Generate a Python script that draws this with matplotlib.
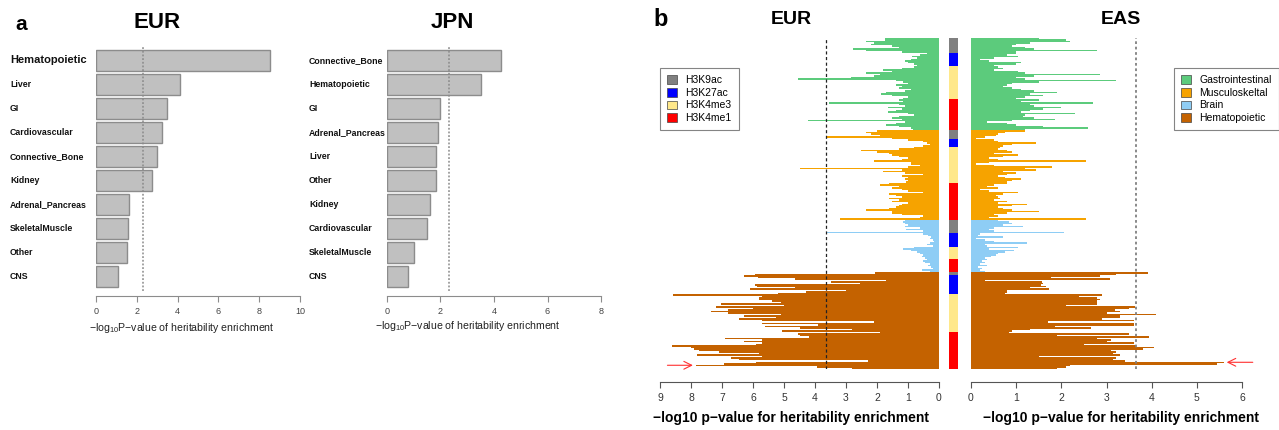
import matplotlib
matplotlib.use('Agg')
import matplotlib.pyplot as plt
import matplotlib.transforms as mtransforms
from matplotlib.patches import Patch

plt.rcParams['font.family'] = ['Liberation Sans', 'DejaVu Sans']
plt.rcParams['mathtext.fontset'] = 'custom'
plt.rcParams['mathtext.rm'] = 'Liberation Sans'

# ---------------- data: panel a ----------------
eur_tissues = ['Hematopoietic', 'Liver', 'GI', 'Cardiovascular', 'Connective_Bone',
               'Kidney', 'Adrenal_Pancreas', 'SkeletalMuscle', 'Other', 'CNS']
eur_values = [8.53, 4.13, 3.46, 3.22, 2.99, 2.73, 1.63, 1.58, 1.53, 1.08]
jpn_tissues = ['Connective_Bone', 'Hematopoietic', 'GI', 'Adrenal_Pancreas', 'Liver',
               'Other', 'Kidney', 'Cardiovascular', 'SkeletalMuscle', 'CNS']
jpn_values = [4.27, 3.53, 1.98, 1.92, 1.83, 1.82, 1.60, 1.48, 1.00, 0.77]
threshold_a = 2.3

# ---------------- data: panel b ----------------
marks = ['H3K9ac', 'H3K27ac', 'H3K4me3', 'H3K4me1']
mark_colors = ['#808080', '#0000FF', '#FFE88A', '#FF0000']
groups = ['Gastrointestinal', 'Musculoskeltal', 'Brain', 'Hematopoietic']
group_colors = ['#5CCB7C', '#F6A300', '#8ECDF5', '#C46200']
threshold_b = 3.65

# number of annotations per mark (H3K9ac, H3K27ac, H3K4me3, H3K4me1) in each group
gi_counts = [10, 9, 22, 21]
musc_counts = [6, 5, 24, 25]
brain_counts = [9, 9, 8, 9]
hemato_counts = [2, 13, 25, 25]

eur_gi = [1.75, 1.75, 2.34, 2.1, 2.2, 1.5, 1.3, 2.78, 2.34, 1.2,
          0.4, 0.6, 0.88, 0.7, 0.9, 1.1, 1.0, 0.8, 0.7,
          0.8, 1.2, 1.8, 1.5, 2.34, 1.9, 2.1, 2.85, 4.56, 1.4, 1.16, 1.0, 1.4, 1.2, 1.3,
          0.9, 1.1, 1.7, 1.86, 1.5, 1.0, 1.16,
          1.3, 1.16, 3.55, 1.3, 1.1, 1.65, 1.2, 1.4, 1.65, 1.0, 0.8, 1.3, 1.5, 1.2, 4.24,
          1.1, 1.4, 1.7, 1.3, 0.9, 0.85]
eas_gi = [1.5, 2.1, 2.2, 1.3, 1.0, 0.9, 1.2, 1.4, 2.8, 1.0,
          1.0, 0.8, 1.05, 0.5, 0.2, 0.4, 1.1, 1.0, 0.5,
          0.6, 0.7, 0.5, 1.05, 1.2, 2.85, 1.4, 1.0, 1.2, 3.2, 1.5, 0.9, 0.8, 0.7, 0.9,
          1.1, 1.4, 1.9, 1.3, 1.6, 1.2, 1.0,
          1.5, 1.1, 2.7, 1.3, 1.4, 2.0, 1.6, 1.3, 1.1, 2.3, 1.2, 1.15, 1.4, 1.85, 0.9,
          0.35, 0.8, 1.0, 1.6, 2.6, 1.2]
eur_musc = [2.0, 2.34, 2.2, 1.9, 3.6, 1.5,
            1.0, 0.5, 0.4, 0.3, 0.5,
            0.8, 1.3, 2.5, 2.0, 1.6, 1.5, 1.3, 1.0, 1.2, 2.1, 0.9, 0.9, 0.6, 1.0, 4.5,
            1.2, 1.8, 1.1, 0.5, 1.2, 1.0, 1.1, 1.0, 1.05,
            1.6, 1.9, 1.3, 1.5, 1.2, 1.0, 0.5, 1.6, 1.4, 1.2, 1.6, 1.3, 1.5, 1.0, 1.2,
            1.3, 1.4, 1.6, 2.35, 1.5, 1.5, 1.2, 0.5, 0.6, 3.2]
eas_musc = [1.2, 0.75, 0.6, 0.55, 0.3, 0.1,
            0.5, 0.6, 1.45, 0.9, 0.7,
            0.65, 0.6, 0.8, 0.9, 0.5, 1.05, 0.7, 0.4, 0.6, 2.55, 0.4, 0.1, 0.5, 1.8,
            1.2, 1.45, 0.7, 1.0, 0.8, 0.6, 0.75, 1.1, 0.9, 0.8,
            0.8, 0.5, 0.35, 0.6, 0.2, 0.4, 1.05, 0.7, 0.55, 0.6, 0.65, 0.5, 0.8, 0.6,
            1.25, 0.9, 0.6, 0.7, 0.9, 1.5, 0.8, 0.5, 0.6, 0.4, 2.55]
eur_brain = [1.1, 1.15, 1.1, 1.0, 1.1, 0.6, 1.05, 0.5, 3.6,
             0.5, 0.35, 0.25, 0.3, 0.2, 0.15, 0.3, 0.4, 0.2,
             0.8, 1.15, 0.9, 0.7, 0.6, 0.5, 0.55, 0.45,
             0.4, 0.5, 0.45, 0.3, 0.35, 0.25, 0.2, 0.55, 0.3]
eas_brain = [0.6, 0.85, 0.9, 0.7, 1.15, 0.5, 0.4, 0.5, 2.05,
             0.2, 0.15, 0.7, 0.1, 0.3, 0.5, 1.25, 0.3, 0.35,
             1.05, 0.4, 0.95, 0.75, 0.6, 0.55, 0.45, 0.3,
             0.35, 0.25, 0.3, 0.2, 0.35, 0.15, 0.25, 0.2, 0.3]
eur_hemato = [2.07, 5.95,
              6.28, 5.84, 4.66, 1.7, 3.47, 2.55, 5.95, 5.88, 4.66, 6.1, 3.0, 4.3, 5.2,
              8.58, 5.7, 5.8, 5.8, 5.4, 5.1, 7.03, 5.0, 7.2, 6.0, 6.8, 7.36, 6.8, 5.1, 6.3,
              5.25, 6.45, 5.7, 2.1, 5.7, 3.9, 5.6, 4.5, 2.8, 5.05,
              1.9, 4.55, 4.5, 4.2, 6.9, 5.7, 6.3, 5.7, 5.9, 8.62, 8.0, 7.9, 7.75, 7.1, 5.8,
              7.8, 5.7, 6.7, 6.45, 2.3, 5.9, 6.95, 7.85, 3.95, 2.8]
eas_hemato = [3.92, 3.2,
              2.85, 1.78, 3.07, 0.3, 1.58, 1.6, 1.55, 1.65, 1.3, 1.72, 0.79, 0.8, 0.75,
              2.9, 2.4, 2.8, 2.85, 2.8, 2.8, 2.8, 2.1, 3.62, 3.5, 3.18, 3.3, 3.0, 4.1, 3.3,
              3.3, 2.9, 3.6, 1.7, 3.6, 3.6, 1.86, 2.65, 1.3, 0.9,
              0.85, 3.5, 1.9, 3.93, 2.8, 3.1, 3.0, 3.6, 2.5, 3.65, 4.05, 3.8, 3.1, 3.2,
              3.15, 3.3, 1.5, 3.2, 3.15, 3.4, 5.6, 5.45, 2.2, 2.1, 1.9]
# highlighted annotation (red arrows): index within the Hematopoietic block
eur_arrow_idx = 62
eas_arrow_idx = 60

# ---------------- figure ----------------
W, H = 1279, 430
fig = plt.figure(figsize=(W / 100, H / 100), dpi=100)


def rect(l, t, r, b):
    return [l / W, 1 - b / H, (r - l) / W, (b - t) / H]


def panel_a(l, r, xmax, tissues, values, label_x, first_big):
    ax = fig.add_axes(rect(l, 45.9, r, 291))
    y = list(range(len(values)))
    ax.barh(y, values, height=0.85, color='#C0C0C0', edgecolor='#8C8C8C', linewidth=1.0)
    ax.set_xlim(0, xmax)
    ax.set_ylim(len(values) - 0.4, -0.6)
    ax.axvline(threshold_a, color='#8A8A8A', ls=(0, (1.2, 1.2)), lw=1.1)
    for s in ['top', 'right', 'left']:
        ax.spines[s].set_visible(False)
    ax.spines['bottom'].set_position(('outward', 3.6))
    ax.spines['bottom'].set_bounds(0, xmax)
    ax.spines['bottom'].set_color('#8C8C8C')
    ax.set_xticks(list(range(0, xmax + 1, 2)))
    ax.tick_params(axis='x', colors='#8C8C8C', labelcolor='#444444', labelsize=6.5,
                   length=4, pad=4)
    ax.set_yticks([])
    ax.patch.set_visible(False)
    trans = mtransforms.blended_transform_factory(fig.transFigure, ax.transData)
    for i, t in enumerate(tissues):
        big = first_big and i == 0
        ax.text(label_x / W, i, t, transform=trans, ha='left', va='center',
                fontsize=8.0 if big else 6.3, fontweight='bold', color='#111111')
    return ax


panel_a(96, 300, 10, eur_tissues, eur_values, 10, True)
panel_a(387, 601, 8, jpn_tissues, jpn_values, 309, False)

fig.text(15 / W, 1 - 24 / H, 'a', fontsize=15, fontweight='bold', va='center', ha='left')
fig.text(157 / W, 1 - 23 / H, 'EUR', fontsize=16, fontweight='bold', va='center', ha='center')
fig.text(452 / W, 1 - 23 / H, 'JPN', fontsize=16, fontweight='bold', va='center', ha='center')
xl_a = '\u2212log$_{\\mathregular{10}}$P\u2212value of heritability enrichment'
fig.text(182 / W, 1 - 328 / H, xl_a, fontsize=7.6, va='center', ha='center', color='#222222')
fig.text(468 / W, 1 - 326 / H, xl_a, fontsize=7.6, va='center', ha='center', color='#222222')

# ---------------- panel b ----------------
blocks = [
    (eur_gi, eas_gi, gi_counts),
    (eur_musc, eas_musc, musc_counts),
    (eur_brain, eas_brain, brain_counts),
    (eur_hemato, eas_hemato, hemato_counts),
]
eur_all, eas_all, bar_cols, strip_cols = [], [], [], []
for gi, (ev, av, cnts) in enumerate(blocks):
    eur_all += ev
    eas_all += av
    bar_cols += [group_colors[gi]] * len(ev)
    for mi, c in enumerate(cnts):
        strip_cols += [mark_colors[mi]] * c
n = len(eur_all)
idx = list(range(n))
hem_start = n - len(eur_hemato)

top_px, bot_px = 38, 369
ax_e = fig.add_axes(rect(660, top_px, 939, bot_px))
ax_s = fig.add_axes(rect(949, top_px, 958, bot_px))
ax_a = fig.add_axes(rect(971, top_px, 1242, bot_px))

ax_e.barh(idx, eur_all, height=1.0, color=bar_cols, linewidth=0)
ax_a.barh(idx, eas_all, height=1.0, color=bar_cols, linewidth=0)
ax_s.barh(idx, [1] * n, height=1.0, color=strip_cols, linewidth=0)

ax_e.set_xlim(9, 0)
ax_a.set_xlim(0, 6)
for ax in (ax_e, ax_a, ax_s):
    ax.set_ylim(n - 0.5, -0.5)
    ax.set_yticks([])
    ax.patch.set_visible(False)
    for s in ['top', 'right', 'left']:
        ax.spines[s].set_visible(False)
ax_s.set_xlim(0, 1)
ax_s.axis('off')

ax_e.axvline(threshold_b, color='#222222', ls=(0, (2.5, 2)), lw=0.9)
ax_a.axvline(threshold_b, color='#808080', ls=(0, (1.5, 1.5)), lw=1.3)

for ax, xmax in ((ax_e, 9), (ax_a, 6)):
    ax.spines['bottom'].set_position(('outward', 9.5))
    ax.spines['bottom'].set_bounds(0, xmax)
    ax.spines['bottom'].set_color('#555555')
    ax.set_xticks(list(range(0, xmax + 1)))
    ax.tick_params(axis='x', colors='#555555', labelcolor='#333333', labelsize=7.5,
                   length=4, pad=4)

xl_b = '\u2212log10 p\u2212value for heritability enrichment'
fig.text(791 / W, 1 - 418 / H, xl_b, fontsize=10, fontweight='bold', va='center', ha='center')
fig.text(1121 / W, 1 - 418 / H, xl_b, fontsize=10, fontweight='bold', va='center', ha='center')
fig.text(653 / W, 1 - 20 / H, 'b', fontsize=17, fontweight='bold', va='center', ha='left')
fig.text(791 / W, 1 - 20 / H, 'EUR', fontsize=14, fontweight='bold', va='center', ha='center')
fig.text(1121 / W, 1 - 20 / H, 'EAS', fontsize=14, fontweight='bold', va='center', ha='center')

# arrows
ie = hem_start + eur_arrow_idx
ve = eur_all[ie]
ax_e.annotate('', xy=(ve, ie), xytext=(ve + 1.0, ie),
              arrowprops=dict(arrowstyle='->', color='#FF3030', lw=0.8, mutation_scale=14),
              annotation_clip=False)
ia = hem_start + eas_arrow_idx
va_ = eas_all[ia]
ax_a.annotate('', xy=(va_, ia), xytext=(va_ + 0.7, ia),
              arrowprops=dict(arrowstyle='->', color='#FF3030', lw=0.8, mutation_scale=14),
              annotation_clip=False)

# legends
mark_handles = [Patch(facecolor=c, edgecolor='#444444', linewidth=0.5) for c in mark_colors]
leg1 = fig.legend(mark_handles, marks, loc='upper left',
                  bbox_to_anchor=(660 / W, 1 - 68 / H), fontsize=7.5, frameon=True,
                  fancybox=False, edgecolor='#666666', handlelength=0.9, handleheight=0.9,
                  labelspacing=0.25, borderpad=0.7, handletextpad=0.8, borderaxespad=0)
leg1.get_frame().set_linewidth(0.8)
group_handles = [Patch(facecolor=c, edgecolor='#444444', linewidth=0.5) for c in group_colors]
leg2 = fig.legend(group_handles, groups, loc='upper left',
                  bbox_to_anchor=(1174 / W, 1 - 68 / H), fontsize=7.5, frameon=True,
                  fancybox=False, edgecolor='#666666', handlelength=0.9, handleheight=0.9,
                  labelspacing=0.25, borderpad=0.7, handletextpad=0.8, borderaxespad=0)
leg2.get_frame().set_linewidth(0.8)

fig.savefig('out.png', dpi=100)
